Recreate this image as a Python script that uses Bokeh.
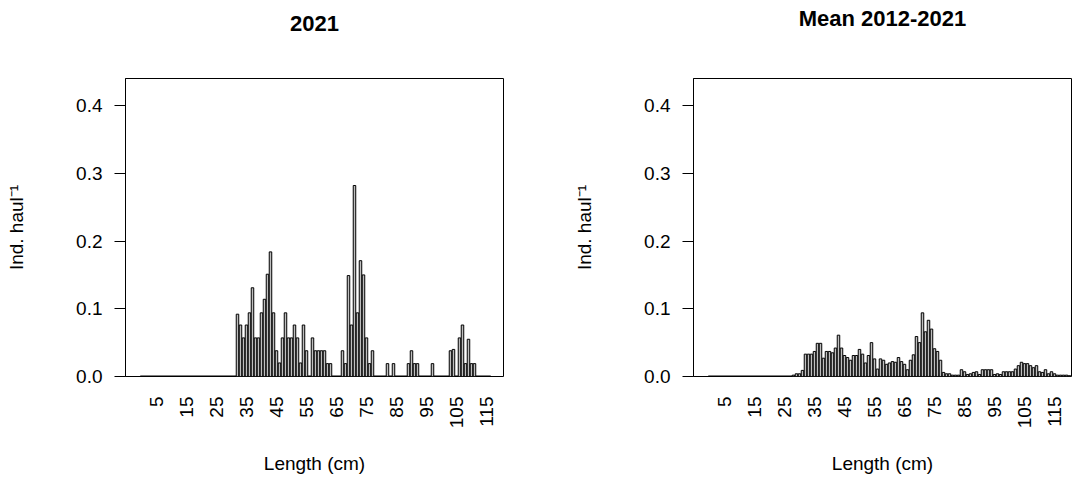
from math import pi

from bokeh.embed import file_html
from bokeh.layouts import row
from bokeh.models import ColumnDataSource, FixedTicker, Range1d, Title
from bokeh.plotting import figure
from bokeh.resources import INLINE

# Length classes (cm) drawn in each panel
classes_2021 = list(range(0, 117))
classes_mean = list(range(0, 121))

# 2021: individuals per haul by length class (classes not listed are zero)
len_2021 = [32, 33, 34, 35, 36, 37, 38, 39, 40, 41, 42, 43, 44, 45, 46, 47, 48,
            49, 50, 51, 52, 53, 54, 55, 57, 58, 59, 60, 61, 62, 63, 67, 68, 69,
            70, 71, 72, 73, 74, 75, 76, 77, 82, 84, 89, 90, 91, 92, 97, 103,
            104, 106, 107, 108, 109, 110, 111]
ind_2021 = [0.092, 0.076, 0.057, 0.076, 0.094, 0.131, 0.057, 0.057, 0.094,
            0.114, 0.151, 0.184, 0.094, 0.038, 0.020, 0.057, 0.094, 0.057,
            0.057, 0.076, 0.057, 0.020, 0.076, 0.038, 0.057, 0.038, 0.038,
            0.038, 0.038, 0.019, 0.019, 0.038, 0.019, 0.149, 0.076, 0.282,
            0.094, 0.171, 0.150, 0.057, 0.019, 0.038, 0.019, 0.019, 0.019,
            0.038, 0.019, 0.019, 0.019, 0.038, 0.040, 0.057, 0.076, 0.019,
            0.055, 0.019, 0.019]

# Mean 2012-2021: individuals per haul by length class
len_mean = list(range(28, 121))
ind_mean = [0.002, 0.004, 0.004, 0.009, 0.033, 0.033, 0.033, 0.037, 0.049,
            0.049, 0.027, 0.037, 0.037, 0.035, 0.042, 0.061, 0.042, 0.031,
            0.028, 0.024, 0.031, 0.031, 0.040, 0.033, 0.020, 0.031, 0.050,
            0.026, 0.011, 0.026, 0.024, 0.018, 0.020, 0.022, 0.021, 0.028,
            0.022, 0.018, 0.010, 0.024, 0.032, 0.059, 0.050, 0.094, 0.066,
            0.083, 0.070, 0.041, 0.037, 0.024, 0.006, 0.004, 0.004, 0.002,
            0.002, 0.002, 0.010, 0.007, 0.003, 0.004, 0.006, 0.007, 0.003,
            0.010, 0.010, 0.010, 0.010, 0.003, 0.004, 0.003, 0.007, 0.007,
            0.007, 0.007, 0.011, 0.016, 0.021, 0.019, 0.019, 0.016, 0.013,
            0.016, 0.007, 0.006, 0.010, 0.004, 0.007, 0.004, 0.002, 0.002,
            0.002, 0.002, 0.001]

x_ticks = list(range(5, 116, 10))
y_ticks = [0.0, 0.1, 0.2, 0.3, 0.4]

FONT = "Liberation Sans"
X_START, X_END = -5.33, 120.67
Y_END = 0.44
BAR_W = 1 / 1.2


def per_class(classes, lens, vals):
    lookup = dict(zip(lens, vals))
    return [lookup.get(c, 0.0) for c in classes]


def panel(title, classes, lens, vals, width, border_right):
    p = figure(width=width, height=496,
               x_range=Range1d(X_START, X_END), y_range=Range1d(0, Y_END),
               output_backend="svg", toolbar_location=None,
               min_border_left=125, min_border_right=border_right,
               min_border_top=76, min_border_bottom=120)
    p.xgrid.visible = False
    p.ygrid.visible = False
    p.outline_line_color = "black"
    p.outline_line_width = 1
    p.background_fill_color = "white"
    p.border_fill_color = "white"

    # an empty heading row keeps the real heading clear of the frame
    p.add_layout(Title(text=" ", text_font_size="30px"), "above")
    p.add_layout(Title(text=title, align="center", text_font=FONT,
                       text_font_size="22px", text_font_style="bold",
                       text_color="black", standoff=6), "above")

    src = ColumnDataSource(dict(length=classes,
                                value=per_class(classes, lens, vals)))
    # outline of the empty classes along the zero line
    p.segment(x0=classes[0] - BAR_W / 2, y0=0,
              x1=classes[-1] + BAR_W / 2, y1=0,
              line_color="black", line_width=2)
    p.vbar(x="length", top="value", bottom=0, width=BAR_W, source=src,
           fill_color="#BEBEBE", line_color="black", line_width=1)

    xa = p.xaxis[0]
    xa.ticker = FixedTicker(ticks=x_ticks)
    xa.major_label_overrides = {t: str(t) for t in x_ticks}
    xa.major_label_orientation = pi / 2
    xa.major_tick_line_color = None
    xa.minor_tick_line_color = None
    xa.axis_line_color = None
    xa.major_label_standoff = 14
    xa.major_label_text_font = FONT
    xa.major_label_text_font_size = "19px"
    xa.major_label_text_color = "black"
    xa.axis_label = "Length (cm)"
    xa.axis_label_standoff = 22
    xa.axis_label_text_font = FONT
    xa.axis_label_text_font_size = "19px"
    xa.axis_label_text_font_style = "normal"
    xa.axis_label_text_color = "black"

    ya = p.yaxis[0]
    ya.ticker = FixedTicker(ticks=y_ticks)
    ya.major_label_overrides = {t: f"{t:.1f}" for t in y_ticks}
    ya.major_tick_out = 11
    ya.major_tick_in = 0
    ya.minor_tick_line_color = None
    ya.major_tick_line_color = "black"
    ya.axis_line_color = "black"
    ya.major_label_standoff = 12
    ya.major_label_text_font = FONT
    ya.major_label_text_font_size = "19px"
    ya.major_label_text_color = "black"
    ya.axis_label = "Ind. haul\u207b\u00b9"
    ya.axis_label_standoff = 46
    ya.axis_label_text_font = FONT
    ya.axis_label_text_font_size = "19px"
    ya.axis_label_text_font_style = "normal"
    ya.axis_label_text_color = "black"
    return p


p1 = panel("2021", classes_2021, len_2021, ind_2021, 568, 65)
p2 = panel("Mean 2012-2021", classes_mean, len_mean, ind_mean, 505, 2)

layout = row(p1, p2)
open("out.html", "w").write(file_html(layout, INLINE))
